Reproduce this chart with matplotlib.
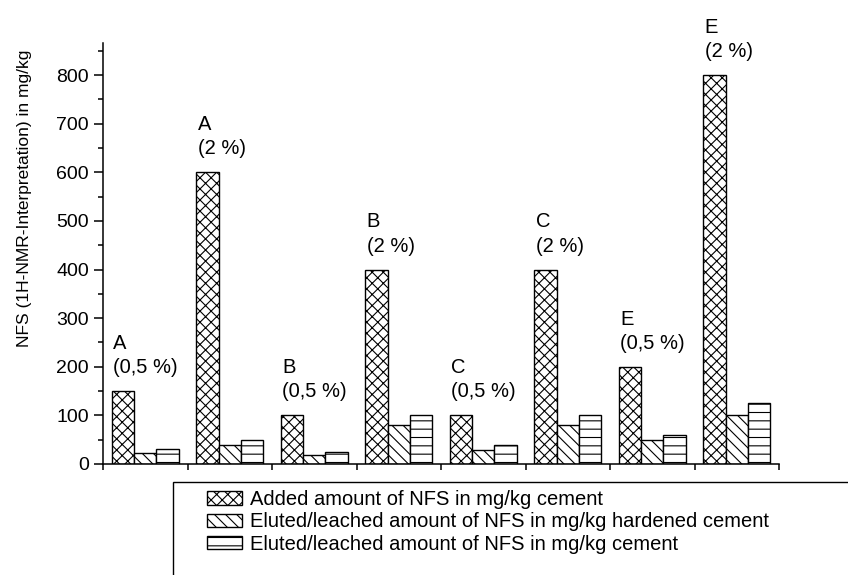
import numpy as np
import matplotlib
matplotlib.use("Agg")
import matplotlib.pyplot as plt
from matplotlib.patches import Patch, Rectangle
from matplotlib.ticker import MultipleLocator

plt.rcParams['font.family'] = ['Liberation Sans', 'DejaVu Sans']
plt.rcParams['hatch.linewidth'] = 0.8

# data
group_labels = ["A\n(0,5 %)", "A\n(2 %)", "B\n(0,5 %)", "B\n(2 %)",
                "C\n(0,5 %)", "C\n(2 %)", "E\n(0,5 %)", "E\n(2 %)"]
added = [150, 600, 100, 400, 100, 400, 200, 800]
eluted_hardened = [23, 40, 18, 80, 29, 80, 50, 100]
eluted_cement = [30, 50, 25, 100, 39, 100, 59, 126]

series_names = ["Added amount of NFS in mg/kg cement",
                "Eluted/leached amount of NFS in mg/kg hardened cement",
                "Eluted/leached amount of NFS in mg/kg cement"]
hatches = ["xxx", "\\\\\\", "--"]

fig = plt.figure(figsize=(8.48, 5.75), dpi=100)
ax = fig.add_axes([103 / 848, 1 - 464 / 575, 676 / 848, 421 / 575])

x = np.arange(len(added)) + 0.5
w = 0.264
for i, (vals, h) in enumerate(zip([added, eluted_hardened, eluted_cement], hatches)):
    ax.bar(x + (i - 1) * w, vals, w, color="white", edgecolor="black",
           linewidth=1.0, hatch=h)

# group labels above the first bar of each group
for xi, v, lab in zip(x, added, group_labels):
    ax.annotate(lab, xy=(xi - 1.5 * w, v), xytext=(1, 10),
                textcoords="offset points", ha="left", va="bottom",
                fontsize=14.5, linespacing=1.35, annotation_clip=False)

ax.set_xlim(0, 8)
ax.set_ylim(0, 866)
ax.set_xticks(np.arange(0, 9))
ax.set_xticklabels([])
ax.yaxis.set_minor_locator(MultipleLocator(50))
ax.set_yticks(np.arange(0, 801, 100))
ax.tick_params(axis="y", which="major", direction="out", length=6.5, width=1.1,
               labelsize=14)
ax.tick_params(axis="y", which="minor", direction="out", length=3.6, width=1.1)
ax.tick_params(axis="x", direction="out", length=4.5, width=1.1)
for s in ["top", "right"]:
    ax.spines[s].set_visible(False)
for s in ["left", "bottom"]:
    ax.spines[s].set_linewidth(1.1)

fig.text(25 / 848, 1 - 198 / 575, "NFS (1H-NMR-Interpretation) in mg/kg",
         rotation=90, ha="center", va="center", fontsize=12.5)

# legend box runs off the figure edge
box = Rectangle((173 / 848, -0.1), 1.0, 0.1 + 1 - 482 / 575,
                transform=fig.transFigure, facecolor="white",
                edgecolor="black", linewidth=1.0, clip_on=False)
fig.add_artist(box)

handles = [Patch(facecolor="white", edgecolor="black", hatch=h) for h in hatches]
fig.legend(handles, series_names, loc="upper left",
           bbox_to_anchor=(193 / 848, 1 - 476 / 575), frameon=False,
           fontsize=14.5, handlelength=1.75, handleheight=0.65,
           handletextpad=0.4, labelspacing=0.16, borderpad=0.2)

fig.savefig("out.png", dpi=100)
